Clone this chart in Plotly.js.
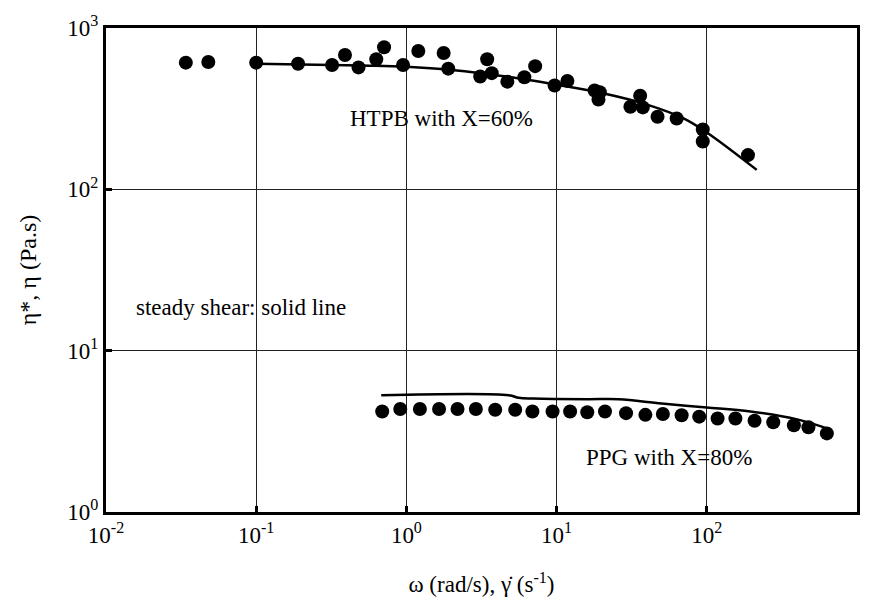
<!DOCTYPE html>
<html>
<head>
<meta charset="utf-8">
<script src="https://cdn.plot.ly/plotly-3.0.1.min.js"></script>
<style>html,body{margin:0;padding:0;background:#fff}#chart{width:871px;height:609px}</style>
</head>
<body>
<div id="chart"></div>
<script>
// HTPB (X=60%) dynamic viscosity points
const htpbX = [0.034, 0.048, 0.1, 0.19, 0.32, 0.39, 0.48, 0.63, 0.71, 0.95, 1.2, 1.77, 1.9, 3.1, 3.45, 3.7, 4.7, 6.1, 7.2, 9.7, 11.8, 17.9, 19.4, 19, 31, 36, 37.5, 47, 63, 94, 94, 188];
const htpbY = [610, 615, 610, 600, 590, 680, 570, 640, 760, 590, 720, 700, 560, 500, 640, 525, 465, 495, 580, 440, 470, 410, 400, 360, 325, 380, 322, 282, 275, 235, 198, 163];
// HTPB steady shear line
const htpbLineX = [0.1, 0.2, 0.5, 1, 2, 5, 10, 20, 40, 70, 100, 215];
const htpbLineY = [600, 595, 585, 575, 550, 495, 445, 395, 335, 275, 225, 132];
// PPG (X=80%) dynamic viscosity points
const ppgX = [0.69, 0.91, 1.23, 1.65, 2.19, 2.9, 3.9, 5.3, 6.9, 9.4, 12.3, 16, 21, 29, 39, 51, 68, 89, 118, 155, 208, 277, 380, 475, 630];
const ppgY = [4.2, 4.35, 4.35, 4.35, 4.35, 4.35, 4.3, 4.3, 4.2, 4.2, 4.2, 4.15, 4.2, 4.1, 4.0, 4.05, 3.98, 3.9, 3.8, 3.8, 3.68, 3.6, 3.45, 3.35, 3.07];
// PPG steady shear line
const ppgLineX = [0.68, 4.8, 5.6, 7, 16, 26, 50, 100, 195, 400, 660];
const ppgLineY = [5.3, 5.3, 5.1, 5.05, 5.0, 5.0, 4.7, 4.45, 4.2, 3.75, 3.25];
// tick labels
const xTickVals = [0.01, 0.1, 1, 10, 100, 1000];
const xTickText = ['10<sup>-2</sup>', '10<sup>-1</sup>', '10<sup>0</sup>', '10<sup>1</sup>', '10<sup>2</sup>', '10<sup>3</sup>'];
const yTickVals = [1, 10, 100, 1000];
const yTickText = ['10<sup>0</sup>', '10<sup>1</sup>', '10<sup>2</sup>', '10<sup>3</sup>'];

const font = 'Liberation Serif, Times New Roman, serif';
const traces = [
  {x: htpbX, y: htpbY, type: 'scatter', mode: 'markers', marker: {color: '#000', size: 14}, showlegend: false},
  {x: htpbLineX, y: htpbLineY, type: 'scatter', mode: 'lines', line: {color: '#000', width: 2.5, shape: 'spline'}, showlegend: false},
  {x: ppgX, y: ppgY, type: 'scatter', mode: 'markers', marker: {color: '#000', size: 14}, showlegend: false},
  {x: ppgLineX, y: ppgLineY, type: 'scatter', mode: 'lines', line: {color: '#000', width: 2.5, shape: 'spline'}, showlegend: false}
];
const layout = {
  width: 871, height: 609,
  margin: {l: 106, r: 14, t: 28, b: 97},
  paper_bgcolor: '#fff', plot_bgcolor: '#fff',
  font: {family: font, color: '#000', size: 22},
  xaxis: {
    type: 'log', range: [-2, 3], tickvals: xTickVals, ticktext: xTickText,
    showgrid: true, gridcolor: '#222', gridwidth: 1, zeroline: false,
    showline: true, linecolor: '#000', linewidth: 3, mirror: true,
    ticks: 'inside', ticklen: 6, tickwidth: 3, tickcolor: '#000',
    tickfont: {size: 23, family: font},
    title: {text: 'ω (rad/s), γ̇ (s<sup>-1</sup>)', font: {size: 23, family: font}, standoff: 30}
  },
  yaxis: {
    type: 'log', range: [0, 3], tickvals: yTickVals, ticktext: yTickText,
    showgrid: true, gridcolor: '#222', gridwidth: 1, zeroline: false,
    showline: true, linecolor: '#000', linewidth: 3, mirror: true,
    ticks: 'inside', ticklen: 6, tickwidth: 3, tickcolor: '#000',
    tickfont: {size: 23, family: font},
    title: {text: 'η*, η (Pa.s)', font: {size: 24, family: font}, standoff: 24}
  },
  annotations: [
    {x: Math.log10(1.7), y: Math.log10(275), xref: 'x', yref: 'y', text: 'HTPB with X=60%', showarrow: false, font: {size: 23, family: font}},
    {x: Math.log10(0.079), y: Math.log10(18.5), xref: 'x', yref: 'y', text: 'steady shear: solid line', showarrow: false, font: {size: 23, family: font}},
    {x: Math.log10(56), y: Math.log10(2.19), xref: 'x', yref: 'y', text: 'PPG with X=80%', showarrow: false, font: {size: 23, family: font}}
  ]
};
Plotly.newPlot('chart', traces, layout, {displayModeBar: false, staticPlot: true});
</script>
</body>
</html>
